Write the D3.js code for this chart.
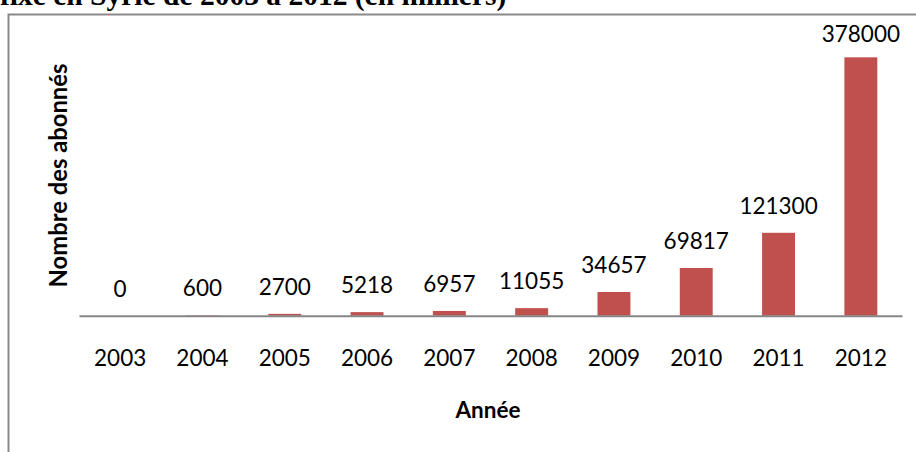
<!DOCTYPE html>
<html>
<head>
<meta charset="utf-8">
<script src="https://cdn.jsdelivr.net/npm/d3@7"></script>
<style>
  html, body { margin: 0; padding: 0; background: #ffffff; overflow: hidden; }
  svg { display: block; }
</style>
</head>
<body>
<svg id="chart" width="916" height="452"></svg>
<script>
const years = ["2003", "2004", "2005", "2006", "2007", "2008", "2009", "2010", "2011", "2012"];
const subscribers = [0, 600, 2700, 5218, 6957, 11055, 34657, 69817, 121300, 378000];
const yDomain = [0, 400000];
const titleText = "fixe en Syrie de 2003 à 2012 (en milliers)";
const xTitle = "Année";
const yTitle = "Nombre des abonnés";

const svg = d3.select("#chart");
const plot = { left: 79, right: 902, top: 42.3, bottom: 315.7 };

// heading above the chart frame (cropped by the window top, as in the reference)
svg.append("text")
  .attr("x", 0).attr("y", 4.5)
  .attr("font-family", "'Liberation Serif', 'Times New Roman', serif")
  .attr("font-weight", "bold")
  .attr("font-size", 29.5)
  .attr("fill", "#000")
  .text(titleText);

// chart frame (extends past the window)
svg.append("rect")
  .attr("x", 8.5).attr("y", 14.5)
  .attr("width", 1000).attr("height", 1000)
  .attr("fill", "none")
  .attr("stroke", "#8a8a8a")
  .attr("stroke-width", 2);

const x = d3.scaleBand()
  .domain(years)
  .range([plot.left, plot.right])
  .paddingInner(0.6)
  .paddingOuter(0.3);

const y = d3.scaleLinear()
  .domain(yDomain)
  .range([plot.bottom, plot.top]);

const labelFont = "Lato, 'Open Sans', sans-serif";

// bars
svg.append("g").selectAll("rect")
  .data(years)
  .join("rect")
  .attr("x", d => x(d))
  .attr("width", x.bandwidth())
  .attr("y", (d, i) => y(subscribers[i]))
  .attr("height", (d, i) => y(0) - y(subscribers[i]))
  .attr("fill", "#C0504D");

// x axis
const xAxis = svg.append("g")
  .attr("transform", `translate(0,${plot.bottom})`)
  .call(d3.axisBottom(x).tickSize(0).tickSizeOuter(0));
xAxis.select(".domain")
  .attr("stroke", "#868686")
  .attr("stroke-width", 2);
xAxis.selectAll(".tick text")
  .attr("y", 50.8)
  .attr("dy", 0)
  .attr("font-family", labelFont)
  .attr("font-size", 22.5)
  .attr("fill", "#000");

// value labels
svg.append("g").selectAll("text")
  .data(years)
  .join("text")
  .attr("x", d => x(d) + x.bandwidth() / 2)
  .attr("y", (d, i) => Math.max(y(subscribers[i]) - 18.8, plot.top - 0.6))
  .attr("text-anchor", "middle")
  .attr("font-family", labelFont)
  .attr("font-size", 22.5)
  .attr("fill", "#000")
  .text((d, i) => subscribers[i]);

// axis titles
svg.append("text")
  .attr("x", 488).attr("y", 418.3)
  .attr("text-anchor", "middle")
  .attr("font-family", labelFont)
  .attr("font-weight", "bold")
  .attr("font-size", 22.5)
  .attr("fill", "#000")
  .text(xTitle);

svg.append("text")
  .attr("transform", "translate(67,175.5) rotate(-90)")
  .attr("text-anchor", "middle")
  .attr("font-family", labelFont)
  .attr("font-weight", "bold")
  .attr("font-size", 23.8)
  .attr("fill", "#000")
  .text(yTitle);
</script>
</body>
</html>
